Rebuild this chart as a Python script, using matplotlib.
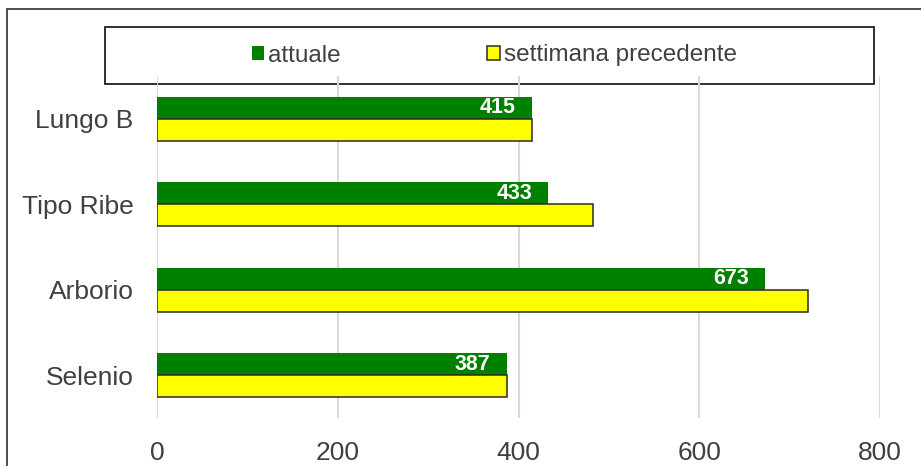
import matplotlib.pyplot as plt
from matplotlib.patches import Rectangle
import numpy as np

plt.rcParams['font.family'] = ['Liberation Sans', 'DejaVu Sans']

categorie = ['Lungo B', 'Tipo Ribe', 'Arborio', 'Selenio']
attuale = [415, 433, 673, 387]
precedente = [415, 482, 720, 387]
serie = ['attuale', 'settimana precedente']

W, H = 921, 466
fig = plt.figure(figsize=(W / 100, H / 100), dpi=100)

# cornice esterna
fig.add_artist(Rectangle((7 / W, -0.1), 1.2, 1 - 9 / H + 0.1, transform=fig.transFigure,
                         fill=False, edgecolor='#303030', linewidth=1.2, zorder=0))

# riquadro legenda (sotto l'asse, come nell'originale)
fig.add_artist(Rectangle((105 / W, 1 - 84 / H), (874 - 105) / W, 57 / H,
                         transform=fig.transFigure, facecolor='white',
                         edgecolor='#202020', linewidth=1.3, zorder=0.5))

ax = fig.add_axes([157 / W, 1 - 418 / H, (880 - 157) / W, (418 - 76) / H])
ax.patch.set_visible(False)
ax.set_zorder(1)

y = np.arange(len(categorie))
h = 0.257
b1 = ax.barh(y - h / 2, attuale, height=h, color='#008000', label=serie[0], zorder=3)
b2 = ax.barh(y + h / 2, precedente, height=h, color='#FFFF00', edgecolor='#2a2a2a',
             linewidth=1.1, label=serie[1], zorder=3)

for rect, v in zip(b1, attuale):
    ax.text(rect.get_width() - 18, rect.get_y() + rect.get_height() / 2, str(v),
            ha='right', va='center', color='white', fontsize=15.5, fontweight='bold', zorder=4)

ax.set_xlim(0, 800)
ax.set_ylim(len(categorie) - 0.5, -0.5)
ax.set_xticks([0, 200, 400, 600, 800])
ax.set_yticks(y)
ax.set_yticklabels(categorie)
ax.tick_params(axis='x', length=0, pad=16.5, labelsize=19, labelcolor='#404040')
ax.tick_params(axis='y', length=0, pad=17, labelsize=19, labelcolor='#404040')
ax.grid(axis='x', color='#d9d9d9', linewidth=1.5, zorder=0)
for s in ax.spines.values():
    s.set_visible(False)

leg = fig.legend(handles=[b1, b2], labels=serie, loc='center', ncol=2,
                 bbox_to_anchor=(494 / W, 1 - 55.5 / H), frameon=False, fontsize=17.5,
                 handlelength=0.53, handleheight=0.53, handletextpad=0.16,
                 columnspacing=6.0, labelcolor='#404040')
leg.set_zorder(6)

fig.savefig('out.png', dpi=100)
